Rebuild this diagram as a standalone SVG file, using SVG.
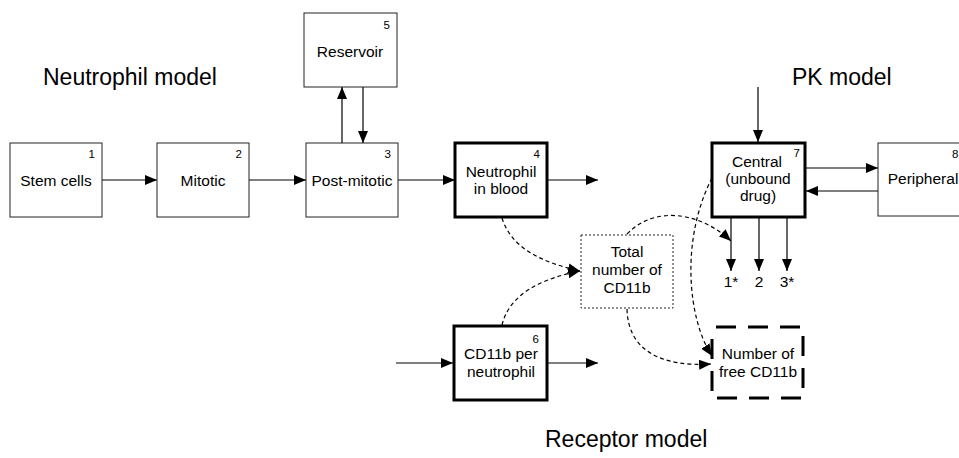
<svg xmlns="http://www.w3.org/2000/svg" width="959" height="458" viewBox="0 0 959 458">
<style>
text{font-family:"Liberation Sans",Arial,sans-serif;fill:#000}
.t{font-size:15.5px;text-anchor:middle}
.n{font-size:11.5px;text-anchor:end}
.title{font-size:23px}
.box{fill:#fff;stroke:#222;stroke-width:1}
.thick{fill:#fff;stroke:#000;stroke-width:3}
.dotted{fill:#fff;stroke:#222;stroke-width:1;stroke-dasharray:2 2}
.dashbox{fill:#fff;stroke:#000;stroke-width:3;stroke-dasharray:20 12;stroke-dashoffset:-4}
.ln{fill:none;stroke:#000;stroke-width:1.2;marker-end:url(#ah)}
.dl{fill:none;stroke:#000;stroke-width:1.2;stroke-dasharray:4 3;marker-end:url(#ah)}
</style>
<defs>
<marker id="ah" viewBox="0 0 12 10" refX="12" refY="5" markerWidth="12" markerHeight="10" markerUnits="userSpaceOnUse" orient="auto">
<path d="M0,0 L12,5 L0,10 Z" fill="#000"/>
</marker>
</defs>
<rect width="959" height="458" fill="#fff"/>

<text class="title" x="43" y="85">Neutrophil model</text>
<text class="title" x="792" y="85">PK model</text>
<text class="title" x="545" y="447">Receptor model</text>

<g id="connectors">
<line class="ln" x1="102" y1="180" x2="157" y2="180"/>
<line class="ln" x1="249" y1="180" x2="306" y2="180"/>
<line class="ln" x1="398" y1="180" x2="455" y2="180"/>
<line class="ln" x1="548" y1="180" x2="598" y2="180"/>
<line class="ln" x1="342" y1="143" x2="342" y2="87"/>
<line class="ln" x1="363" y1="87" x2="363" y2="143"/>
<line class="ln" x1="758" y1="87" x2="758" y2="142"/>
<line class="ln" x1="806" y1="168" x2="878" y2="168"/>
<line class="ln" x1="878" y1="191" x2="806" y2="191"/>
<line class="ln" x1="731" y1="218" x2="731" y2="271"/>
<line class="ln" x1="759" y1="218" x2="759" y2="271"/>
<line class="ln" x1="787" y1="218" x2="787" y2="271"/>
<line class="ln" x1="396" y1="363" x2="453" y2="363"/>
<line class="ln" x1="548" y1="363" x2="598" y2="363"/>
<path class="dl" d="M502,218 C512,250 545,263 580,271"/>
<path class="dl" d="M502,325 C510,292 545,278 580,271"/>
<path class="dl" d="M627,234 C655,205 700,212 731,241"/>
<path class="dl" d="M627,309 C628,350 660,367 711,364"/>
<path class="dl" d="M712,178 C680,240 688,320 712,356"/>
</g>

<g id="n1"><rect class="box" x="10" y="143" width="92" height="74"/><text class="n" x="95" y="158">1</text><text class="t" x="56" y="186">Stem cells</text></g>
<g id="n2"><rect class="box" x="157" y="143" width="92" height="74"/><text class="n" x="242" y="158">2</text><text class="t" x="203" y="186">Mitotic</text></g>
<g id="n3"><rect class="box" x="306" y="143" width="92" height="74"/><text class="n" x="391" y="158">3</text><text class="t" x="352" y="186">Post-mitotic</text></g>
<g id="n5"><rect class="box" x="304" y="13" width="93" height="74"/><text class="n" x="390" y="29">5</text><text class="t" x="350" y="57">Reservoir</text></g>
<g id="n4"><rect class="thick" x="455" y="143" width="92" height="74"/><text class="n" x="540" y="158">4</text><text class="t" x="501" y="177">Neutrophil</text><text class="t" x="501" y="194">in blood</text></g>
<g id="n7"><rect class="thick" x="712" y="143" width="93" height="74"/><text class="n" x="800" y="157">7</text><text class="t" x="757" y="167">Central</text><text class="t" x="758" y="184">(unbound</text><text class="t" x="758" y="201">drug)</text></g>
<g id="n8"><rect class="box" x="878" y="143" width="92" height="73"/><text class="n" x="958.5" y="158">8</text><text class="t" x="923" y="184">Peripheral</text></g>
<g id="n_total"><rect class="dotted" x="581" y="235" width="92" height="73"/><text class="t" x="627" y="257">Total</text><text class="t" x="627" y="275">number of</text><text class="t" x="627" y="293">CD11b</text></g>
<g id="n6"><rect class="thick" x="454" y="326" width="93" height="74"/><text class="n" x="539" y="343">6</text><text class="t" x="501" y="359">CD11b per</text><text class="t" x="501" y="377">neutrophil</text></g>
<g id="n_free"><rect class="dashbox" x="712" y="327" width="91" height="71"/><text class="t" x="758" y="359">Number of</text><text class="t" x="758" y="377">free CD11b</text></g>
<g id="labels">
<text class="t" x="731" y="287">1*</text>
<text class="t" x="759" y="287">2</text>
<text class="t" x="787" y="287">3*</text>
</g>
</svg>
